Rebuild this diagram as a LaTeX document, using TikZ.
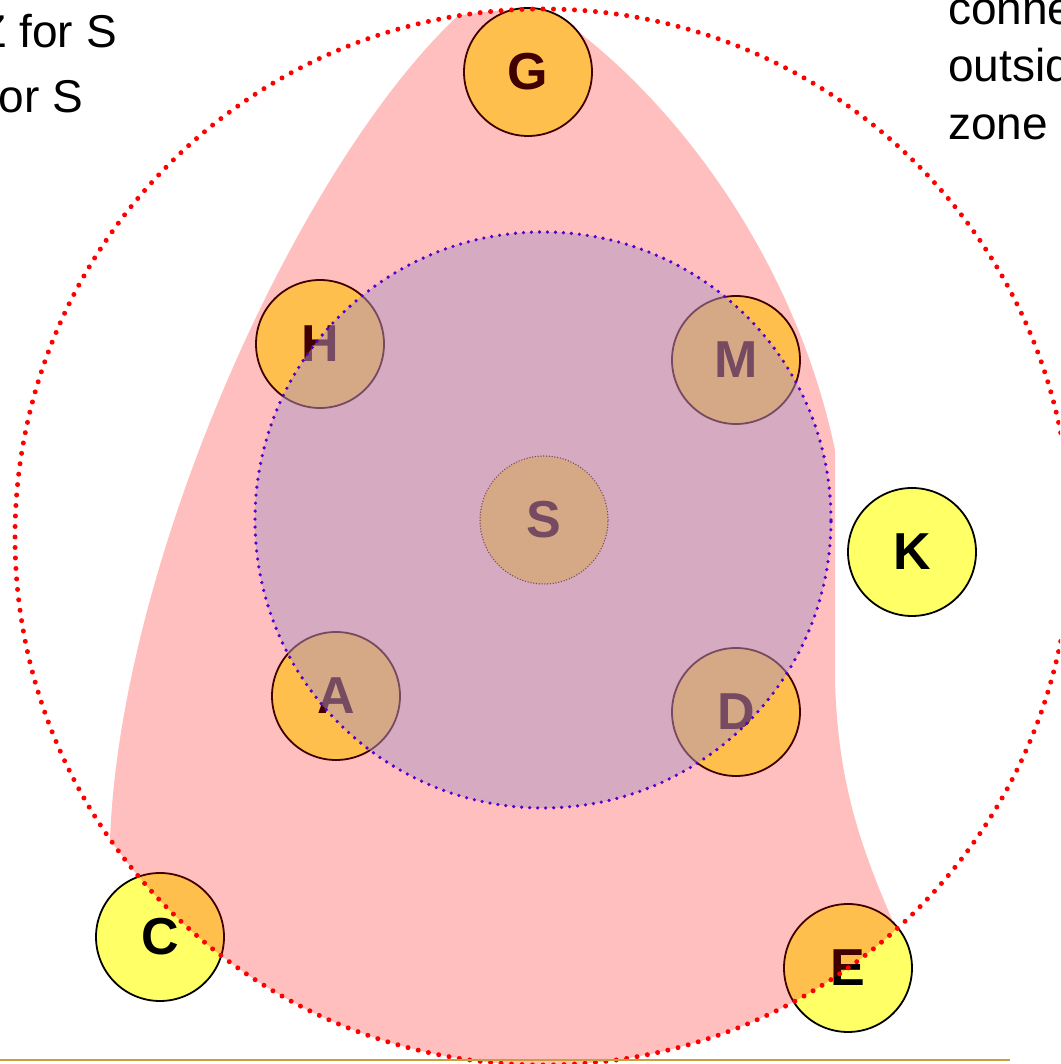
\documentclass[tikz,border=0pt]{standalone}
\usepackage{fontspec}
\setmainfont{Liberation Sans}
\definecolor{nodeyellow}{RGB}{255,255,102}
\definecolor{purpfill}{RGB}{173,149,193}
\definecolor{purpdot}{RGB}{85,0,204}
\definecolor{goldline}{RGB}{201,160,60}
\begin{document}
\begin{tikzpicture}[x=1pt,y=1pt,
  nd/.style={circle, minimum size=128pt, inner sep=0pt, draw=black, line width=1.8pt, fill=nodeyellow, font=\bfseries\fontsize{52}{52}\selectfont},
  dotborder/.style={line width=1.5pt, dash pattern=on 0pt off 2.8pt, line cap=round},
  lbl/.style={inner sep=0pt, font=\fontsize{46}{46}\selectfont}]
\useasboundingbox (0,0) rectangle (1060,1064);
\clip (0,0) rectangle (1060,1064);
% nodes
\node[nd] (G) at (528,992) {G};
\node[nd] (H) at (320,720) {H};
\node[nd] (M) at (736,704) {M};
\node[nd, dotborder] (S) at (544,544) {S};
\node[nd] (A) at (336,368) {A};
\node[nd] (D) at (736,352) {D};
\node[nd] (C) at (160,127) {C};
\node[nd] (E) at (848,96) {E};
\node[nd] (K) at (912,512) {K};
% pink zone
\coordinate (rc) at (543,527);
\coordinate (pc) at (543,544);
\begin{scope}
\clip (rc) circle (528);
\fill[red, opacity=0.25] (110,0) -- (110,224)
  .. controls (120,504) and (300,904) .. (462,1052)
  -- (528,1056) arc[start angle=90, end angle=40, radius=64]
  .. controls (680,954) and (795,804) .. (835,614)
  -- (835,384)
  .. controls (838,264) and (870,194) .. (910,104)
  -- (910,0) -- cycle;
\end{scope}
% purple zone
\fill[purpfill, opacity=0.5] (pc) circle (288);
\draw[purpdot, line width=3.6pt, dash pattern=on 0pt off 8pt, line cap=round] (pc) circle (288);
% red zone
\draw[red, line width=5pt, dash pattern=on 0pt off 10.5pt, line cap=round] (rc) circle (528);
% texts
\node[lbl, anchor=base east] (t1) at (117,1016) {Z for S};
\node[lbl, anchor=base east] (t2) at (83,951) {for S};
\node[lbl, anchor=base west] (t3) at (948,1039) {connected};
\node[lbl, anchor=base west] (t4) at (948,982) {outside};
\node[lbl, anchor=base west] (t5) at (948,924) {zone};
% bottom rule
\coordinate (g1) at (0,4);
\coordinate (g2) at (1010,4);
\draw[goldline, line width=2pt] (g1) -- (g2);
\end{tikzpicture}
\end{document}
